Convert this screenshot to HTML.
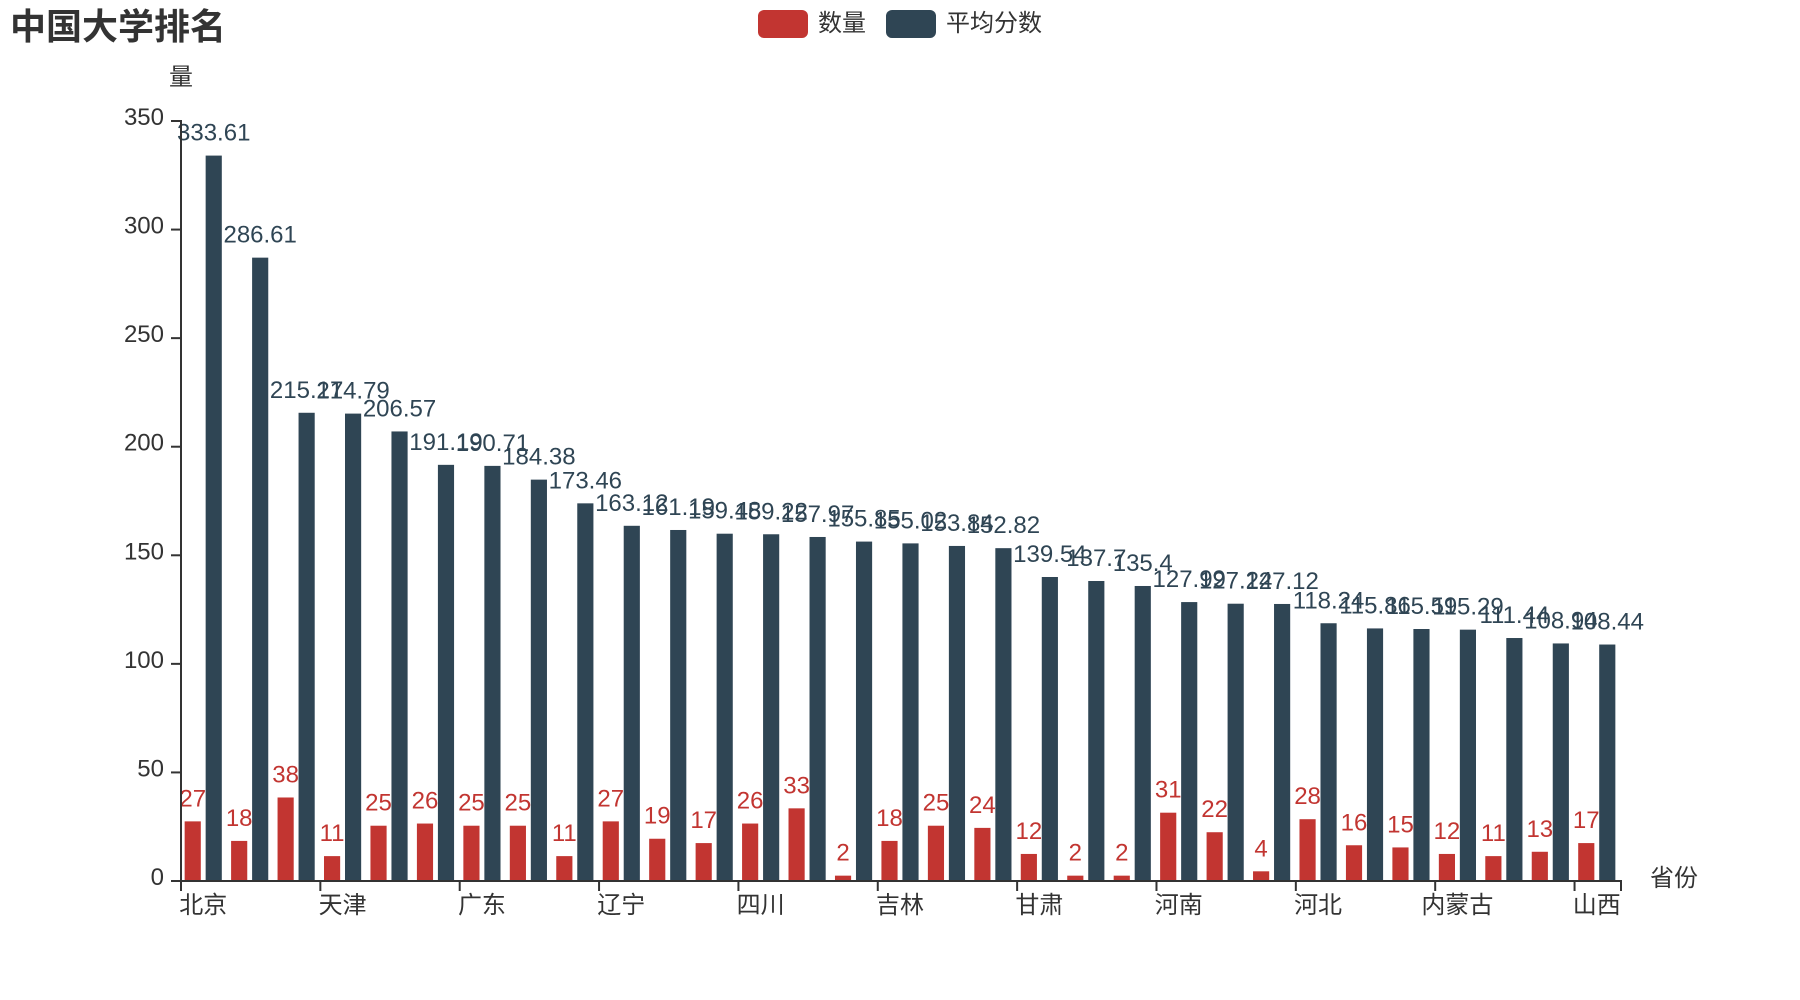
<!DOCTYPE html>
<html>
<head>
<meta charset="utf-8">
<style>
html,body{margin:0;padding:0;background:#fff;}
svg{display:block;}
text{font-family:"Liberation Sans","Noto Sans CJK SC",sans-serif;}
</style>
</head>
<body>
<svg width="1800" height="1000" viewBox="0 0 1800 1000" xmlns="http://www.w3.org/2000/svg">
<rect width="1800" height="1000" fill="#fff"/>
<!-- title -->
<text x="10" y="39" font-size="36" font-weight="bold" fill="#333" style="font-family:'Noto Sans CJK SC',sans-serif">中国大学排名</text>
<!-- legend -->
<rect x="758" y="10" width="50" height="28" rx="6" fill="#c23531"/>
<text x="818" y="31" font-size="24" fill="#333">数量</text>
<rect x="886" y="10" width="50" height="28" rx="6" fill="#2f4554"/>
<text x="946" y="31" font-size="24" fill="#333">平均分数</text>

<!-- bars (scaled group) -->
<g transform="translate(180,880) scale(46.4516,-2.17143)">
<g fill="#c23531">
<rect x="0.1" y="0" width="0.34783" height="27"/>
<rect x="1.1" y="0" width="0.34783" height="18"/>
<rect x="2.1" y="0" width="0.34783" height="38"/>
<rect x="3.1" y="0" width="0.34783" height="11"/>
<rect x="4.1" y="0" width="0.34783" height="25"/>
<rect x="5.1" y="0" width="0.34783" height="26"/>
<rect x="6.1" y="0" width="0.34783" height="25"/>
<rect x="7.1" y="0" width="0.34783" height="25"/>
<rect x="8.1" y="0" width="0.34783" height="11"/>
<rect x="9.1" y="0" width="0.34783" height="27"/>
<rect x="10.1" y="0" width="0.34783" height="19"/>
<rect x="11.1" y="0" width="0.34783" height="17"/>
<rect x="12.1" y="0" width="0.34783" height="26"/>
<rect x="13.1" y="0" width="0.34783" height="33"/>
<rect x="14.1" y="0" width="0.34783" height="2"/>
<rect x="15.1" y="0" width="0.34783" height="18"/>
<rect x="16.1" y="0" width="0.34783" height="25"/>
<rect x="17.1" y="0" width="0.34783" height="24"/>
<rect x="18.1" y="0" width="0.34783" height="12"/>
<rect x="19.1" y="0" width="0.34783" height="2"/>
<rect x="20.1" y="0" width="0.34783" height="2"/>
<rect x="21.1" y="0" width="0.34783" height="31"/>
<rect x="22.1" y="0" width="0.34783" height="22"/>
<rect x="23.1" y="0" width="0.34783" height="4"/>
<rect x="24.1" y="0" width="0.34783" height="28"/>
<rect x="25.1" y="0" width="0.34783" height="16"/>
<rect x="26.1" y="0" width="0.34783" height="15"/>
<rect x="27.1" y="0" width="0.34783" height="12"/>
<rect x="28.1" y="0" width="0.34783" height="11"/>
<rect x="29.1" y="0" width="0.34783" height="13"/>
<rect x="30.1" y="0" width="0.34783" height="17"/>
</g>
<g fill="#2f4554">
<rect x="0.55217" y="0" width="0.34783" height="333.61"/>
<rect x="1.55217" y="0" width="0.34783" height="286.61"/>
<rect x="2.55217" y="0" width="0.34783" height="215.17"/>
<rect x="3.55217" y="0" width="0.34783" height="214.79"/>
<rect x="4.55217" y="0" width="0.34783" height="206.57"/>
<rect x="5.55217" y="0" width="0.34783" height="191.19"/>
<rect x="6.55217" y="0" width="0.34783" height="190.71"/>
<rect x="7.55217" y="0" width="0.34783" height="184.38"/>
<rect x="8.55217" y="0" width="0.34783" height="173.46"/>
<rect x="9.55217" y="0" width="0.34783" height="163.12"/>
<rect x="10.55217" y="0" width="0.34783" height="161.19"/>
<rect x="11.55217" y="0" width="0.34783" height="159.48"/>
<rect x="12.55217" y="0" width="0.34783" height="159.22"/>
<rect x="13.55217" y="0" width="0.34783" height="157.97"/>
<rect x="14.55217" y="0" width="0.34783" height="155.85"/>
<rect x="15.55217" y="0" width="0.34783" height="155.02"/>
<rect x="16.55217" y="0" width="0.34783" height="153.84"/>
<rect x="17.55217" y="0" width="0.34783" height="152.82"/>
<rect x="18.55217" y="0" width="0.34783" height="139.54"/>
<rect x="19.55217" y="0" width="0.34783" height="137.7"/>
<rect x="20.55217" y="0" width="0.34783" height="135.4"/>
<rect x="21.55217" y="0" width="0.34783" height="127.99"/>
<rect x="22.55217" y="0" width="0.34783" height="127.24"/>
<rect x="23.55217" y="0" width="0.34783" height="127.12"/>
<rect x="24.55217" y="0" width="0.34783" height="118.24"/>
<rect x="25.55217" y="0" width="0.34783" height="115.86"/>
<rect x="26.55217" y="0" width="0.34783" height="115.59"/>
<rect x="27.55217" y="0" width="0.34783" height="115.29"/>
<rect x="28.55217" y="0" width="0.34783" height="111.44"/>
<rect x="29.55217" y="0" width="0.34783" height="108.94"/>
<rect x="30.55217" y="0" width="0.34783" height="108.44"/>
</g>
</g>

<!-- red value labels -->
<g font-size="24" fill="#c23531" text-anchor="middle">
<text x="192.72" y="806.4">27</text>
<text x="239.17" y="825.9">18</text>
<text x="285.62" y="782.5">38</text>
<text x="332.07" y="841.1">11</text>
<text x="378.53" y="810.7">25</text>
<text x="424.98" y="808.5">26</text>
<text x="471.43" y="810.7">25</text>
<text x="517.88" y="810.7">25</text>
<text x="564.33" y="841.1">11</text>
<text x="610.78" y="806.4">27</text>
<text x="657.24" y="823.7">19</text>
<text x="703.69" y="828.1">17</text>
<text x="750.14" y="808.5">26</text>
<text x="796.59" y="793.3">33</text>
<text x="843.04" y="860.7">2</text>
<text x="889.49" y="825.9">18</text>
<text x="935.95" y="810.7">25</text>
<text x="982.40" y="812.9">24</text>
<text x="1028.85" y="838.9">12</text>
<text x="1075.30" y="860.7">2</text>
<text x="1121.75" y="860.7">2</text>
<text x="1168.20" y="797.7">31</text>
<text x="1214.66" y="817.2">22</text>
<text x="1261.11" y="856.3">4</text>
<text x="1307.56" y="804.2">28</text>
<text x="1354.01" y="830.3">16</text>
<text x="1400.46" y="832.4">15</text>
<text x="1446.91" y="838.9">12</text>
<text x="1493.37" y="841.1">11</text>
<text x="1539.82" y="836.8">13</text>
<text x="1586.27" y="828.1">17</text>
</g>

<!-- dark value labels -->
<g font-size="24" fill="#2f4554" text-anchor="middle">
<text x="213.73" y="140.6">333.61</text>
<text x="260.18" y="242.7">286.61</text>
<text x="306.63" y="397.8">215.17</text>
<text x="353.08" y="398.6">214.79</text>
<text x="399.54" y="416.5">206.57</text>
<text x="445.99" y="449.8">191.19</text>
<text x="492.44" y="450.9">190.71</text>
<text x="538.89" y="464.6">184.38</text>
<text x="585.34" y="488.3">173.46</text>
<text x="631.79" y="510.8">163.12</text>
<text x="678.25" y="515.0">161.19</text>
<text x="724.70" y="518.7">159.48</text>
<text x="771.15" y="519.3">159.22</text>
<text x="817.60" y="522.0">157.97</text>
<text x="864.05" y="526.6">155.85</text>
<text x="910.50" y="528.4">155.02</text>
<text x="956.96" y="531.0">153.84</text>
<text x="1003.41" y="533.2">152.82</text>
<text x="1049.86" y="562.0">139.54</text>
<text x="1096.31" y="566.0">137.7</text>
<text x="1142.76" y="571.0">135.4</text>
<text x="1189.21" y="587.1">127.99</text>
<text x="1235.67" y="588.7">127.24</text>
<text x="1282.12" y="589.0">127.12</text>
<text x="1328.57" y="608.3">118.24</text>
<text x="1375.02" y="613.4">115.86</text>
<text x="1421.47" y="614.0">115.59</text>
<text x="1467.92" y="614.7">115.29</text>
<text x="1514.38" y="623.0">111.44</text>
<text x="1560.83" y="628.5">108.94</text>
<text x="1607.28" y="629.5">108.44</text>
</g>

<!-- y axis -->
<g stroke="#333" stroke-width="2" fill="none">
<line x1="181" y1="120" x2="181" y2="882"/>
<line x1="171" y1="881" x2="181" y2="881"/>
<line x1="171" y1="772.43" x2="181" y2="772.43"/>
<line x1="171" y1="663.86" x2="181" y2="663.86"/>
<line x1="171" y1="555.29" x2="181" y2="555.29"/>
<line x1="171" y1="446.71" x2="181" y2="446.71"/>
<line x1="171" y1="338.14" x2="181" y2="338.14"/>
<line x1="171" y1="229.57" x2="181" y2="229.57"/>
<line x1="171" y1="121" x2="181" y2="121"/>
</g>
<g font-size="24" fill="#333" text-anchor="end">
<text x="164" y="885">0</text>
<text x="164" y="776.4">50</text>
<text x="164" y="667.9">100</text>
<text x="164" y="559.3">150</text>
<text x="164" y="450.7">200</text>
<text x="164" y="342.1">250</text>
<text x="164" y="233.6">300</text>
<text x="164" y="125">350</text>
</g>
<text x="181" y="85" font-size="24" fill="#333" text-anchor="middle">量</text>

<!-- x axis -->
<g stroke="#333" stroke-width="2" fill="none">
<line x1="180" y1="881" x2="1622" y2="881"/>
<line x1="181" y1="880" x2="181" y2="891"/>
<line x1="320.35" y1="880" x2="320.35" y2="891"/>
<line x1="459.71" y1="880" x2="459.71" y2="891"/>
<line x1="599.06" y1="880" x2="599.06" y2="891"/>
<line x1="738.42" y1="880" x2="738.42" y2="891"/>
<line x1="877.77" y1="880" x2="877.77" y2="891"/>
<line x1="1017.13" y1="880" x2="1017.13" y2="891"/>
<line x1="1156.48" y1="880" x2="1156.48" y2="891"/>
<line x1="1295.84" y1="880" x2="1295.84" y2="891"/>
<line x1="1435.19" y1="880" x2="1435.19" y2="891"/>
<line x1="1574.55" y1="880" x2="1574.55" y2="891"/>
<line x1="1621" y1="880" x2="1621" y2="891"/>
</g>
<g font-size="24" fill="#333" text-anchor="middle">
<text x="203.23" y="913">北京</text>
<text x="342.58" y="913">天津</text>
<text x="481.94" y="913">广东</text>
<text x="621.29" y="913">辽宁</text>
<text x="760.65" y="913">四川</text>
<text x="900.00" y="913">吉林</text>
<text x="1039.36" y="913">甘肃</text>
<text x="1178.71" y="913">河南</text>
<text x="1318.07" y="913">河北</text>
<text x="1457.42" y="913">内蒙古</text>
<text x="1596.78" y="913">山西</text>
</g>
<text x="1650" y="886" font-size="24" fill="#333">省份</text>
</svg>
</body>
</html>
